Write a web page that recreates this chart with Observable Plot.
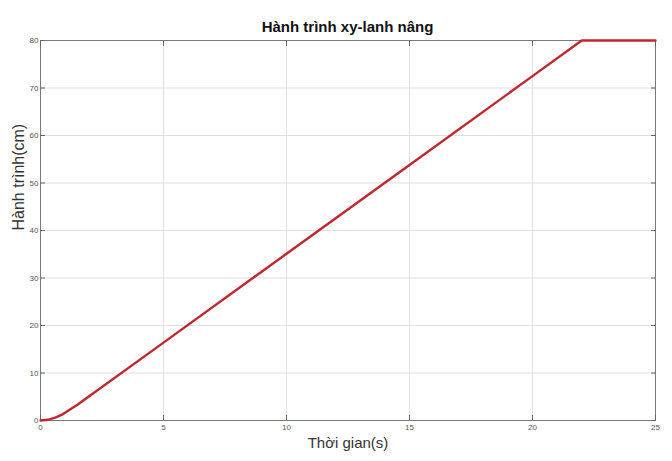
<!DOCTYPE html>
<html>
<head>
<meta charset="utf-8">
<script src="https://cdn.jsdelivr.net/npm/d3@7"></script>
<script src="https://cdn.jsdelivr.net/npm/@observablehq/plot@0.6"></script>
<style>
  html, body { margin: 0; padding: 0; background: #fff; }
  #wrap { position: relative; width: 672px; height: 461px; overflow: hidden; font-family: "Liberation Sans", Arial, sans-serif; }
  #title { position: absolute; left: 40px; width: 615px; top: 18px; text-align: center; font-weight: bold; font-size: 15px; color: #111; }
  #chart { position: absolute; left: 0; top: 0; }
</style>
</head>
<body>
<div id="wrap">
  <div id="chart"></div>
  <div id="title">Hành trình xy-lanh nâng</div>
</div>
<script>
const time = [0, 0.3, 0.6, 0.9, 1.2, 1.5, 5, 10, 15, 20, 22, 25];
const stroke = [0, 0.15, 0.6, 1.3, 2.3, 3.3, 16.4, 35.1, 53.8, 72.5, 80, 80];
const xTicks = [0, 5, 10, 15, 20, 25];
const yTicks = [0, 10, 20, 30, 40, 50, 60, 70, 80];
const xLabel = "Thời gian(s)";
const yLabel = "Hành trình(cm)";

const data = time.map((t, i) => ({t, v: stroke[i]}));

const chart = Plot.plot({
  width: 672,
  height: 461,
  marginLeft: 40,
  marginRight: 17,
  marginTop: 40,
  marginBottom: 41,
  style: {fontFamily: "'Liberation Sans', Arial, sans-serif", background: "#fff"},
  x: {domain: [0, 25]},
  y: {domain: [0, 80]},
  marks: [
    Plot.gridX(xTicks, {stroke: "#e0e0e0", strokeOpacity: 1}),
    Plot.gridY(yTicks, {stroke: "#e0e0e0", strokeOpacity: 1}),
    Plot.frame({stroke: "#7a7a7a"}),
    Plot.axisX(xTicks, {anchor: "bottom", tickSize: -5, stroke: "#666", tickPadding: 9, fontSize: 8, fill: "#555", label: null}),
    Plot.axisX(xTicks, {anchor: "top", tickSize: -5, stroke: "#666", tickFormat: () => "", label: null}),
    Plot.axisY(yTicks, {anchor: "left", tickSize: -5, stroke: "#666", tickPadding: 7, fontSize: 8, fill: "#555", label: null}),
    Plot.axisY(yTicks, {anchor: "right", tickSize: -5, stroke: "#666", tickFormat: () => "", label: null}),
    Plot.line(data, {x: "t", y: "v", stroke: "#c0272d", strokeWidth: 2.4, curve: "linear"}),
    Plot.text([xLabel], {frameAnchor: "bottom", dy: 27, fontSize: 15, fill: "#333", text: d => d}),
    Plot.text([yLabel], {frameAnchor: "left", dx: -22, rotate: -90, fontSize: 16, fill: "#333", text: d => d})
  ]
});
document.getElementById("chart").appendChild(chart);
</script>
</body>
</html>
